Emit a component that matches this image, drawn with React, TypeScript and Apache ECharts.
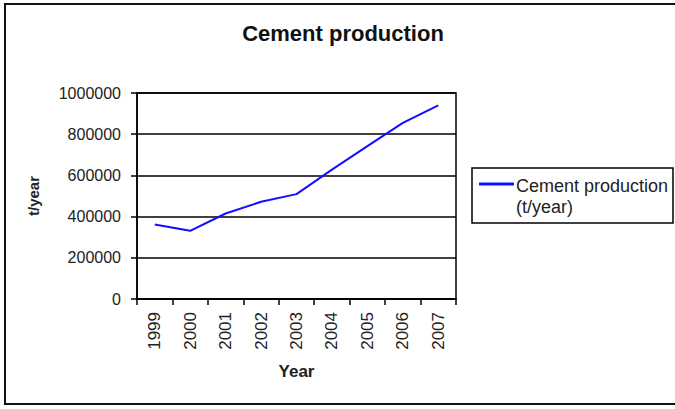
import React, { useEffect, useRef } from "react";
import * as echarts from "echarts";

const years = ["1999", "2000", "2001", "2002", "2003", "2004", "2005", "2006", "2007"];
const production = [362000, 331000, 415000, 472000, 509000, 628000, 742000, 855000, 940000];
const titleText = "Cement production";
const legendLines = ["Cement production", "(t/year)"];
const yName = "t/year";
const xName = "Year";

const FONT = "'Liberation Sans', Arial, sans-serif";

export default function App() {
  const ref = useRef<HTMLDivElement>(null);
  useEffect(() => {
    if (!ref.current) return;
    const chart = echarts.init(ref.current, undefined, { renderer: "svg" });
    chart.setOption({
      animation: false,
      backgroundColor: "#ffffff",
      textStyle: { fontFamily: FONT },
      title: {
        text: titleText,
        left: 343,
        textAlign: "center",
        top: 22,
        padding: 0,
        textStyle: { fontSize: 22, fontWeight: "bold", color: "#111", fontFamily: FONT },
      },
      grid: {
        left: 137,
        right: 219,
        top: 93,
        bottom: 110,
        show: true,
        borderColor: "#000",
        borderWidth: 1.5,
        backgroundColor: "transparent",
      },
      xAxis: {
        type: "category",
        data: years,
        boundaryGap: true,
        name: xName,
        nameLocation: "middle",
        nameGap: 64,
        nameTextStyle: { fontSize: 17, fontWeight: "bold", color: "#222", fontFamily: FONT },
        axisLine: { show: true, lineStyle: { color: "#000", width: 1.5 } },
        axisTick: { show: true, inside: false, length: 6, alignWithLabel: false, lineStyle: { color: "#000", width: 1.5 } },
        axisLabel: { rotate: 90, margin: 13, fontSize: 17, color: "#222", fontFamily: FONT, interval: 0 },
        splitLine: { show: false },
      },
      yAxis: {
        type: "value",
        min: 0,
        max: 1000000,
        interval: 200000,
        name: yName,
        nameLocation: "middle",
        nameGap: 96,
        nameTextStyle: { fontSize: 15, fontWeight: "bold", color: "#222", fontFamily: FONT },
        axisLine: { show: true, lineStyle: { color: "#000", width: 1.5 } },
        axisTick: { show: true, inside: false, length: 6, lineStyle: { color: "#000", width: 1.5 } },
        axisLabel: {
          margin: 16,
          fontSize: 16,
          color: "#222",
          fontFamily: FONT,
          formatter: (v: number) => String(v),
        },
        splitLine: { show: true, lineStyle: { color: "#000", width: 1.5 } },
      },
      series: [
        {
          type: "line",
          name: "Cement production (t/year)",
          data: production,
          symbol: "none",
          lineStyle: { color: "#1010ff", width: 2 },
          itemStyle: { color: "#1010ff" },
        },
      ],
      graphic: [
        {
          type: "rect",
          shape: { x: 5, y: 4, width: 720, height: 400 },
          style: { fill: "none", stroke: "#111", lineWidth: 2 },
          silent: true,
        },
        {
          type: "rect",
          shape: { x: 472, y: 168, width: 201, height: 55 },
          style: { fill: "#fff", stroke: "#000", lineWidth: 1.5 },
          silent: true,
        },
        {
          type: "line",
          shape: { x1: 479, y1: 184, x2: 514, y2: 184 },
          style: { stroke: "#1010ff", lineWidth: 3 },
          silent: true,
        },
        {
          type: "text",
          x: 516,
          y: 186,
          style: {
            text: legendLines[0],
            fontSize: 18,
            fontFamily: FONT,
            fill: "#222",
            verticalAlign: "middle",
            align: "left",
          },
          silent: true,
        },
        {
          type: "text",
          x: 516,
          y: 207,
          style: {
            text: legendLines[1],
            fontSize: 18,
            fontFamily: FONT,
            fill: "#222",
            verticalAlign: "middle",
            align: "left",
          },
          silent: true,
        },
      ],
    });
    return () => chart.dispose();
  }, []);
  return (
    <div
      ref={ref}
      style={{ position: "fixed", left: 0, top: 0, width: 675, height: 409, background: "#fff" }}
    />
  );
}
